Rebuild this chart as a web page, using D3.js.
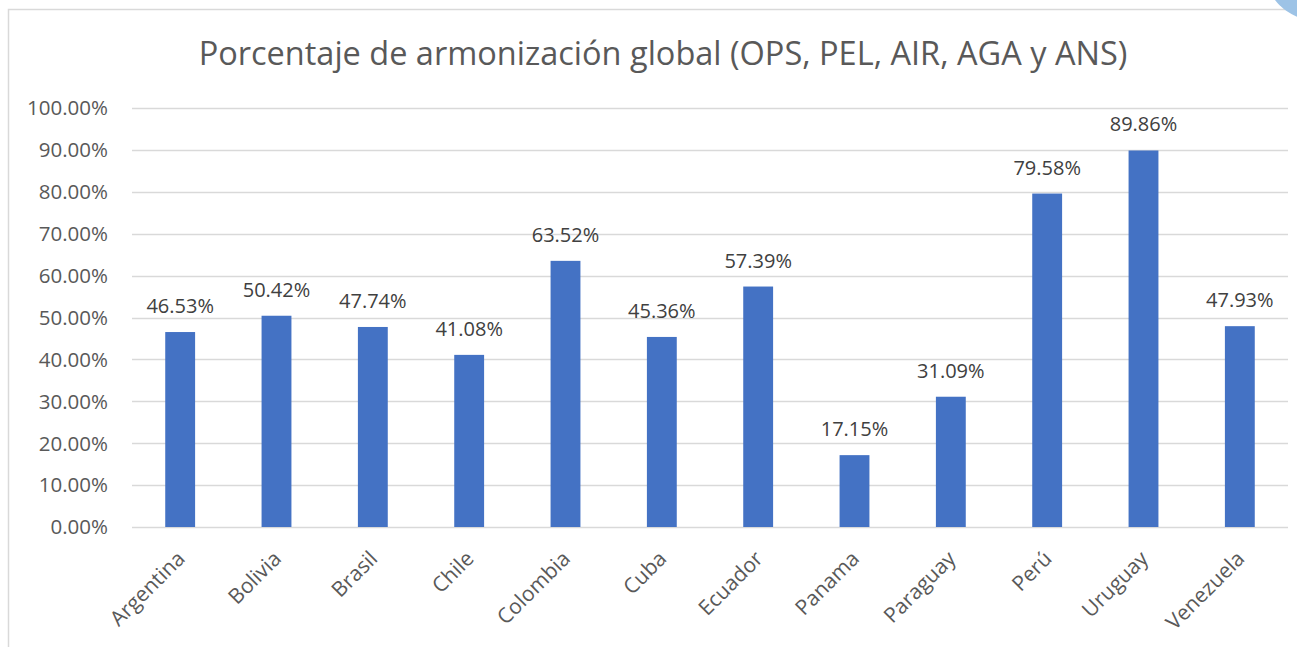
<!DOCTYPE html>
<html>
<head>
<meta charset="utf-8">
<script src="https://cdn.jsdelivr.net/npm/d3@7"></script>
<style>
  body { margin: 0; background: #fff; }
  #chart { width: 1297px; height: 647px; overflow: hidden; }
  text { font-family: "Open Sans", "Noto Sans", sans-serif; }
</style>
</head>
<body>
<div id="chart"></div>
<script>
const countries = ["Argentina", "Bolivia", "Brasil", "Chile", "Colombia", "Cuba", "Ecuador", "Panama", "Paraguay", "Perú", "Uruguay", "Venezuela"];
const values = [46.53, 50.42, 47.74, 41.08, 63.52, 45.36, 57.39, 17.15, 31.09, 79.58, 89.86, 47.93];
const yTicks = [0, 10, 20, 30, 40, 50, 60, 70, 80, 90, 100];
const title = "Porcentaje de armonización global (OPS, PEL, AIR, AGA y ANS)";

const width = 1297, height = 647;
const margin = { left: 132, right: 9, top: 108, bottom: 120 };

const svg = d3.select('#chart')
  .append('svg')
  .attr('width', width)
  .attr('height', height);

// chart frame
svg.append('rect')
  .attr('x', 8.5).attr('y', 9.5)
  .attr('width', 1320).attr('height', 700)
  .attr('fill', '#fff')
  .attr('stroke', '#d9d9d9')
  .attr('stroke-width', 1.5);

// corner decoration
svg.append('circle')
  .attr('cx', 1315).attr('cy', -30).attr('r', 50)
  .attr('fill', '#9dc3e6');

const x = d3.scaleBand()
  .domain(countries)
  .range([margin.left, width - margin.right])
  .paddingInner(0.69)
  .paddingOuter(0.345);

const y = d3.scaleLinear()
  .domain([0, 100])
  .range([height - margin.bottom, margin.top]);

// gridlines
svg.append('g')
  .selectAll('line')
  .data(yTicks)
  .join('line')
  .attr('x1', margin.left).attr('x2', width - margin.right)
  .attr('y1', d => Math.round(y(d)) + 0.5)
  .attr('y2', d => Math.round(y(d)) + 0.5)
  .attr('stroke', '#d9d9d9')
  .attr('stroke-width', 1.5);

// y labels
svg.append('g')
  .selectAll('text')
  .data(yTicks)
  .join('text')
  .attr('x', 108)
  .attr('y', d => y(d))
  .attr('dy', '0.36em')
  .attr('text-anchor', 'end')
  .attr('fill', '#595959')
  .style('font-size', '20.5px')
  .text(d => d.toFixed(2) + '%');

// bars
svg.append('g')
  .selectAll('rect')
  .data(values)
  .join('rect')
  .attr('x', (d, i) => x(countries[i]))
  .attr('width', x.bandwidth())
  .attr('y', d => y(d))
  .attr('height', d => y(0) - y(d))
  .attr('fill', '#4472c4');

// value labels
svg.append('g')
  .selectAll('text')
  .data(values)
  .join('text')
  .attr('x', (d, i) => x(countries[i]) + x.bandwidth() / 2)
  .attr('y', d => y(d) - 19)
  .attr('text-anchor', 'middle')
  .attr('fill', '#404040')
  .style('font-size', '20px')
  .text(d => d.toFixed(2) + '%');

// x labels
svg.append('g')
  .selectAll('text')
  .data(countries)
  .join('text')
  .attr('transform', d => `translate(${x(d) + x.bandwidth() / 2 + 6},${y(0) + 33}) rotate(-45)`)
  .attr('text-anchor', 'end')
  .attr('fill', '#595959')
  .style('font-size', '21px')
  .text(d => d);

// title
svg.append('text')
  .attr('x', 663)
  .attr('y', 65)
  .attr('text-anchor', 'middle')
  .attr('fill', '#595959')
  .style('font-size', '32.5px')
  .text(title);
</script>
</body>
</html>
